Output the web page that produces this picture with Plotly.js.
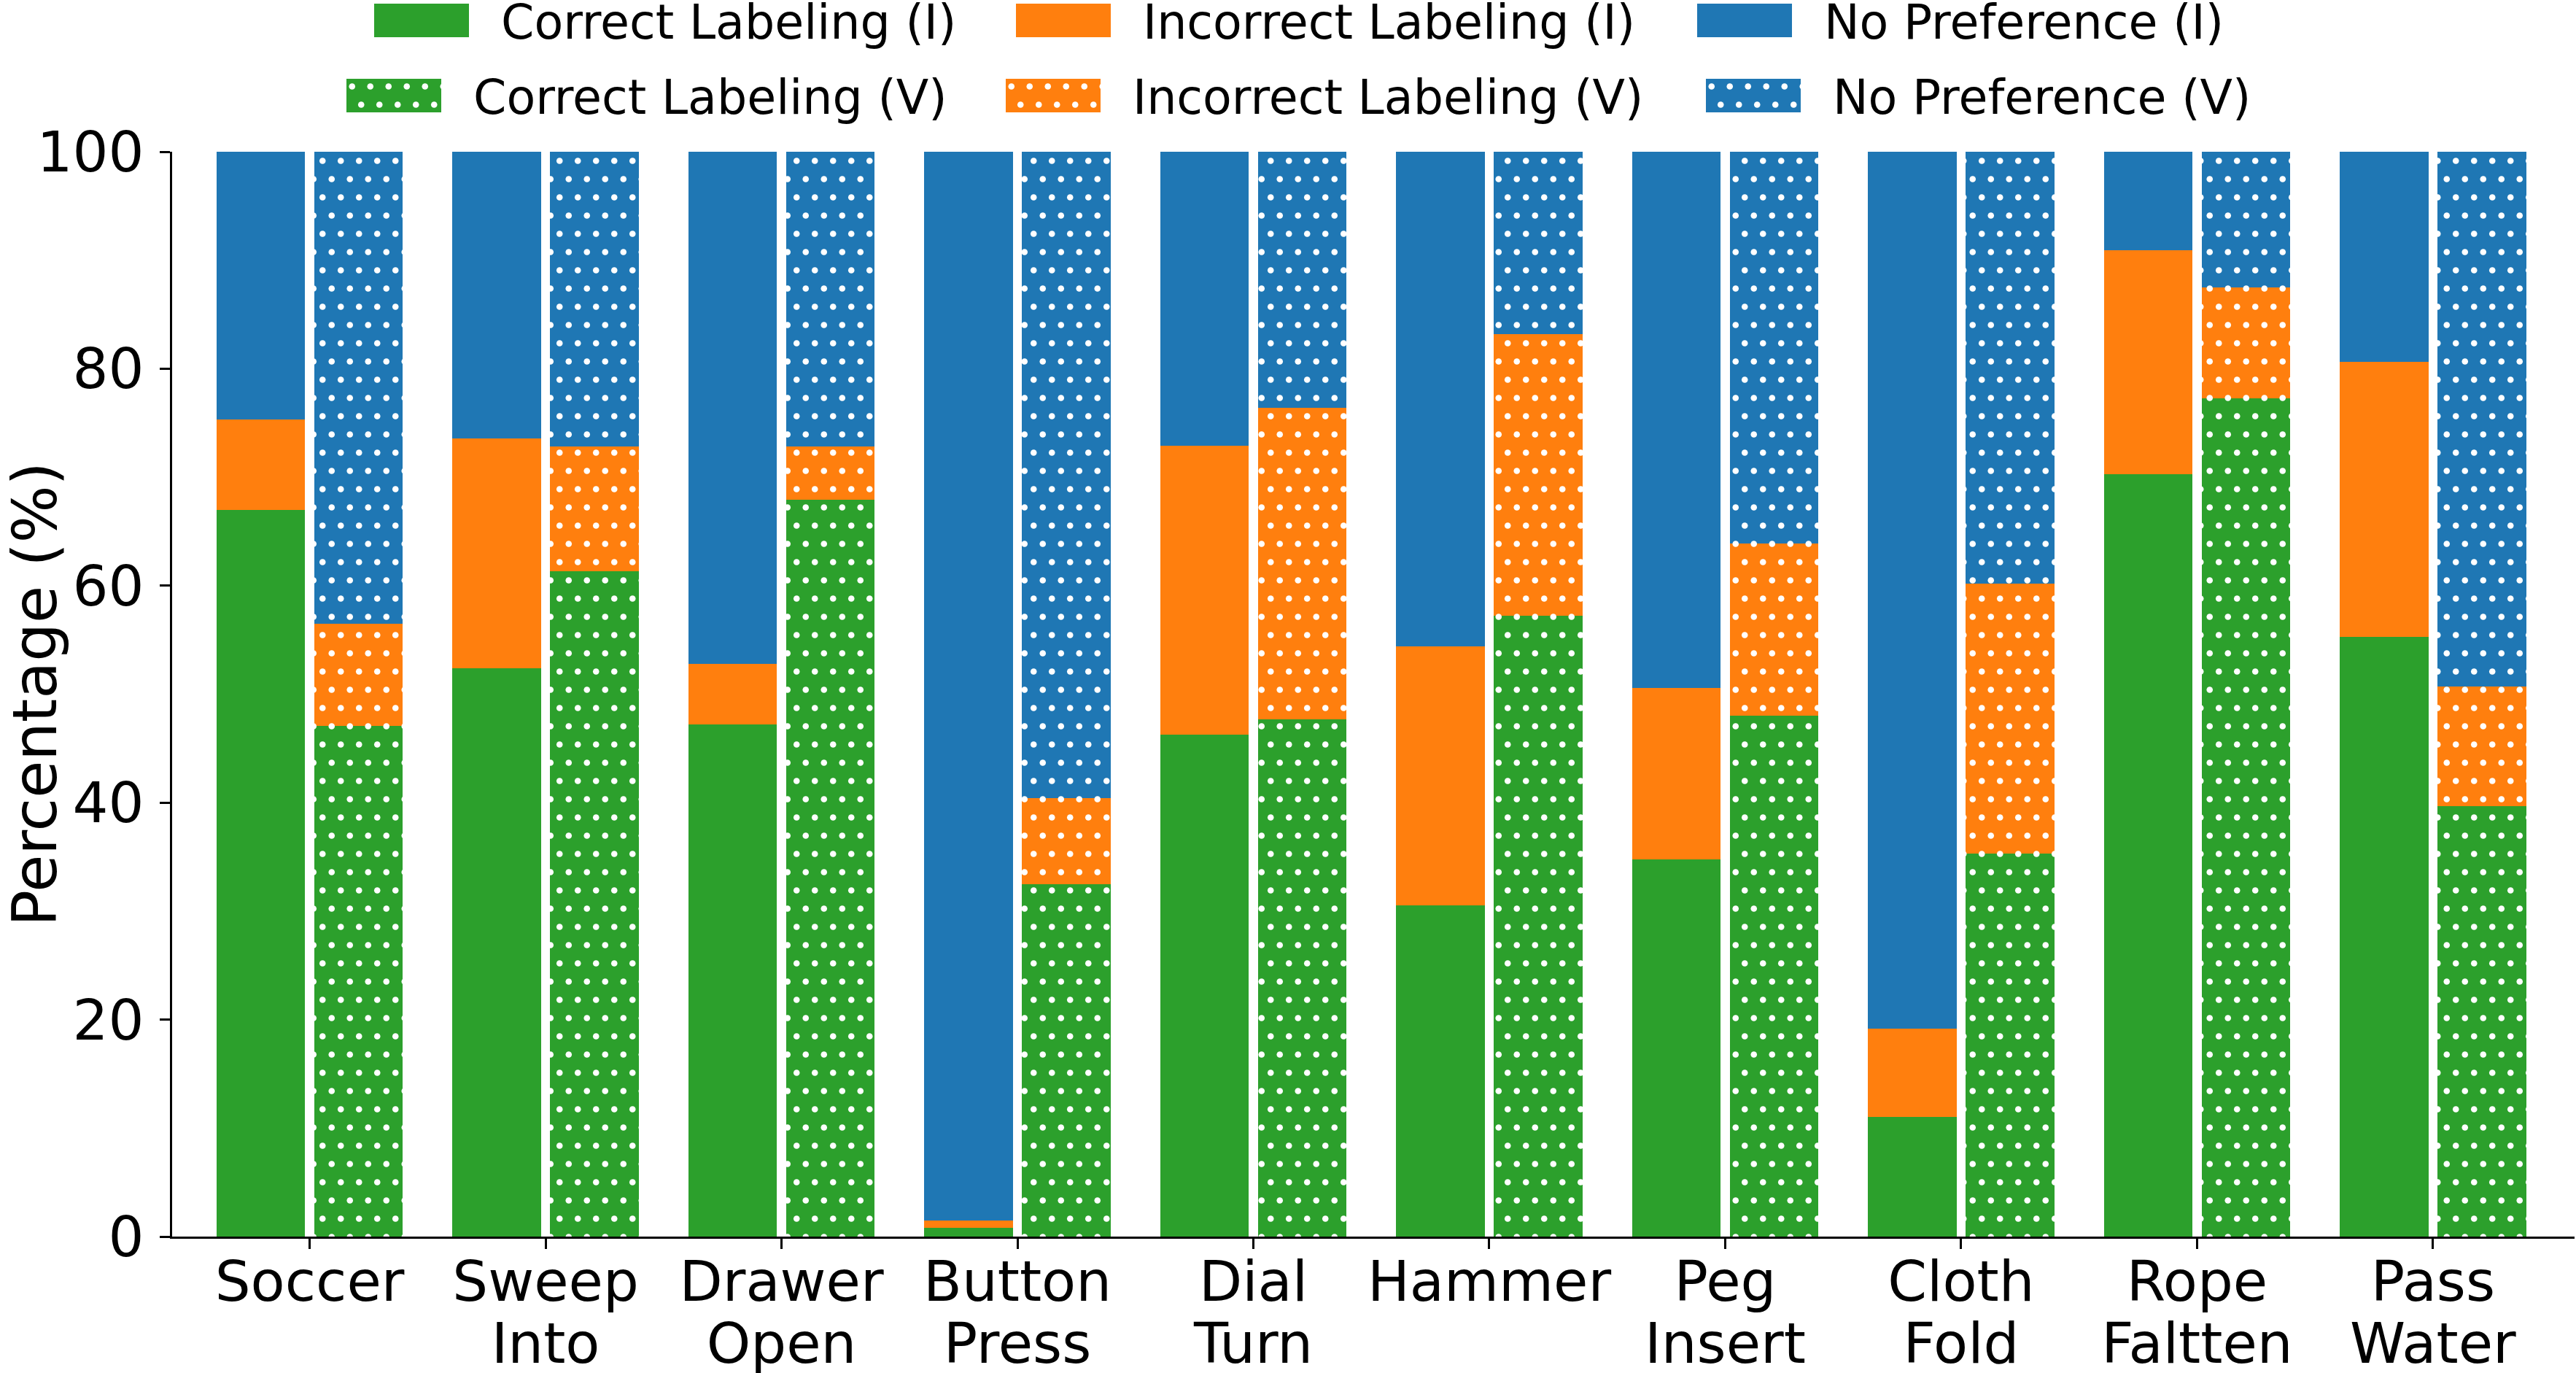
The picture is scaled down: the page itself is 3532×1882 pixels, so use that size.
<!DOCTYPE html>
<html><head><meta charset="utf-8">
<script src="https://cdn.plot.ly/plotly-3.0.1.min.js"></script>
<style>html,body{margin:0;padding:0;background:#fff}#chart{width:3532px;height:1882px}</style>
</head><body><div id="chart"></div>
<script>
const categories = ['Soccer', 'Sweep<br>Into', 'Drawer<br>Open', 'Button<br>Press', 'Dial<br>Turn', 'Hammer', 'Peg<br>Insert', 'Cloth<br>Fold', 'Rope<br>Faltten', 'Pass<br>Water'];
const correctI   = [67.0, 52.4, 47.2, 0.8, 46.3, 30.5, 34.8, 11.0, 70.3, 55.3];
const incorrectI = [8.3, 21.2, 5.6, 0.7, 26.6, 23.9, 15.8, 8.2, 20.6, 25.3];
const noPrefI    = [24.7, 26.4, 47.2, 98.5, 27.1, 45.6, 49.4, 80.8, 9.1, 19.4];
const correctV   = [47.1, 61.3, 67.9, 32.5, 47.7, 57.2, 48.0, 35.3, 77.3, 39.7];
const incorrectV = [9.4, 11.5, 4.9, 7.9, 28.7, 26.0, 15.9, 24.9, 10.2, 11.0];
const noPrefV    = [43.5, 27.2, 27.2, 59.6, 23.6, 16.8, 36.1, 39.8, 12.5, 49.3];
const yTicks = [0, 20, 40, 60, 80, 100];

const GREEN = '#2ca02c', ORANGE = '#ff7f0e', BLUE = '#1f77b4';
const FONT = 'DejaVu Sans, sans-serif';
const idx = categories.map((c, i) => i);
const OFF = 0.207, BW = 0.375;

// legend layout (px): text left edge and swatch centre line, like the matplotlib legend
const LEGEND_PLACE = {
  'Correct Labeling (I)': [687, 28], 'Incorrect Labeling (I)': [1567, 28], 'No Preference (I)': [2501, 28],
  'Correct Labeling (V)': [649, 131], 'Incorrect Labeling (V)': [1553, 131], 'No Preference (V)': [2513, 131]
};
const SWATCH_W = 130, SWATCH_H = 46, SWATCH_GAP = 44;

function mk(name, vals, color, dotted, legend) {
  const t = {
    type: 'bar', name: name, legend: legend,
    x: idx.map(i => dotted ? i + OFF : i - OFF),
    y: vals, width: BW,
    marker: {color: color, line: {width: 0}},
    hoverinfo: 'name+y'
  };
  if (dotted) {
    t.marker.pattern = {shape: '.', bgcolor: color, fgcolor: '#ffffff', fgopacity: 1, size: 35, solidity: 0.1, fillmode: 'replace'};
  }
  return t;
}

const data = [
  mk('Correct Labeling (I)', correctI, GREEN, false, 'legend'),
  mk('Incorrect Labeling (I)', incorrectI, ORANGE, false, 'legend'),
  mk('No Preference (I)', noPrefI, BLUE, false, 'legend'),
  mk('Correct Labeling (V)', correctV, GREEN, true, 'legend2'),
  mk('Incorrect Labeling (V)', incorrectV, ORANGE, true, 'legend2'),
  mk('No Preference (V)', noPrefV, BLUE, true, 'legend2')
];

const legBase = {orientation: 'h', traceorder: 'normal', xref: 'container', yref: 'container', x: 0.504, xanchor: 'center', yanchor: 'top',
  font: {family: FONT, size: 65, color: '#000'}, itemwidth: 150, bgcolor: 'rgba(0,0,0,0)', itemclick: false, itemdoubleclick: false};

const layout = {
  width: 3532, height: 1882,
  paper_bgcolor: '#ffffff', plot_bgcolor: '#ffffff',
  margin: {l: 236, r: 2, t: 208, b: 187, pad: 0, autoexpand: false},
  barmode: 'stack', bargap: 0,
  font: {family: FONT, color: '#000'},
  showlegend: true,
  legend: Object.assign({}, legBase, {y: 1.0}),
  legend2: Object.assign({}, legBase, {y: 1 - 102 / 1882}),
  xaxis: {
    range: [-0.583, 9.6], tickmode: 'array', tickvals: idx, ticktext: categories,
    showgrid: false, zeroline: false, showline: true, linecolor: '#000', linewidth: 3,
    ticks: 'outside', ticklen: 14, tickwidth: 3, tickcolor: '#000',
    tickfont: {family: FONT, size: 77, color: '#000'}, fixedrange: true
  },
  yaxis: {
    range: [0, 100], tickmode: 'array', tickvals: yTicks, ticktext: yTicks.map(String),
    showgrid: false, zeroline: false, showline: true, linecolor: '#000', linewidth: 3,
    ticks: 'outside', ticklen: 14, tickwidth: 3, tickcolor: '#000', ticklabelstandoff: 6,
    tickfont: {family: FONT, size: 77, color: '#000'},
    title: {text: 'Percentage (%)', font: {family: FONT, size: 83, color: '#000'}, standoff: 38},
    fixedrange: true
  }
};

// matplotlib-like '.' hatch: staggered white dots
const svgNS = 'http://www.w3.org/2000/svg';
(function makeDots() {
  const s = document.createElementNS(svgNS, 'svg');
  s.setAttribute('width', '0'); s.setAttribute('height', '0');
  s.style.position = 'absolute';
  const defs = document.createElementNS(svgNS, 'defs');
  [GREEN, ORANGE, BLUE].forEach(function (c) {
    const p = document.createElementNS(svgNS, 'pattern');
    p.setAttribute('id', 'dots-' + c.slice(1));
    p.setAttribute('patternUnits', 'userSpaceOnUse');
    p.setAttribute('width', '25'); p.setAttribute('height', '50');
    const r = document.createElementNS(svgNS, 'rect');
    r.setAttribute('width', '25'); r.setAttribute('height', '50'); r.setAttribute('fill', c);
    p.appendChild(r);
    [[6.25, 12.5], [18.75, 37.5]].forEach(function (xy) {
      const ci = document.createElementNS(svgNS, 'circle');
      ci.setAttribute('cx', xy[0]); ci.setAttribute('cy', xy[1]); ci.setAttribute('r', '4.3');
      ci.setAttribute('fill', '#ffffff');
      p.appendChild(ci);
    });
    defs.appendChild(p);
  });
  s.appendChild(defs);
  document.body.appendChild(s);
})();

function srcTrace(name) {
  return data.find(function (d) { return d.name === name; }) || null;
}

const debugMsgs = [];
function restyleDom(gd) {
  // dotted hatch on the V bars
  gd.querySelectorAll('.barlayer .trace').forEach(function (tr, k) {
    const d = tr.__data__;
    const t = d && d[0] && d[0].trace;
    const src = t ? data[t.index] : data[k];
    if (src && src.marker.pattern) {
      tr.querySelectorAll('path').forEach(function (p) { p.style.fill = 'url(#dots-' + src.marker.color.slice(1) + ')'; });
    }
  });
  // x tick labels: tighter line spacing, closer to the axis
  gd.querySelectorAll('.xtick text').forEach(function (tx) {
    if (tx.getAttribute('data-adj')) return;
    tx.setAttribute('data-adj', '1');
    tx.querySelectorAll('tspan.line').forEach(function (ts, i) {
      if (i > 0) ts.setAttribute('dy', '1.1em');
    });
    tx.setAttribute('transform', (tx.getAttribute('transform') || '') + ' translate(0,-21)');
  });
  // legends: large matplotlib-like swatches
  gd.querySelectorAll('[clip-path]').forEach(function (e) {
    if (e.getAttribute('clip-path').indexOf('legend') >= 0) e.removeAttribute('clip-path');
  });
  let found = 0, done = 0;
  gd.querySelectorAll('text').forEach(function (txt) {
    const name = txt.textContent.trim();
    const place = LEGEND_PLACE[name];
    if (!place) return;
    found++;
    try {
      const tr = txt.parentNode;
      const all = Array.prototype.slice.call(tr.querySelectorAll('path'));
      let p = all.find(function (q) { return /bar/.test(q.getAttribute('class') || ''); });
      if (!p) p = all.find(function (q) { const b = q.getBBox(); return b.width > 0 && b.height > 0; });
      if (!p) { debugMsgs.push('nopath:' + name + ':' + all.length); return; }
      all.forEach(function (q) { if (q !== p) q.style.display = 'none'; });
      const pr = p.getBoundingClientRect();
      const tr0 = txt.getBoundingClientRect();
      const dx = place[0] - tr0.left, dy = place[1] - (pr.top + pr.height / 2);
      const m0 = /translate\(\s*([-\d.e]+)[ ,]+([-\d.e]+)\s*\)/.exec(tr.getAttribute('transform') || '');
      const ax = m0 ? parseFloat(m0[1]) : 0, ay = m0 ? parseFloat(m0[2]) : 0;
      tr.setAttribute('transform', 'translate(' + (ax + dx) + ',' + (ay + dy) + ')');
      const tr1 = txt.getBoundingClientRect();
      const cy = place[1];
      const x1 = tr1.left - SWATCH_GAP, x0 = x1 - SWATCH_W, y0 = cy - SWATCH_H / 2, y1 = cy + SWATCH_H / 2;
      p.removeAttribute('transform');
      const m = p.getScreenCTM();
      const lx0 = (x0 - m.e) / m.a, lx1 = (x1 - m.e) / m.a;
      const ly0 = (y0 - m.f) / m.d, ly1 = (y1 - m.f) / m.d;
      p.setAttribute('d', 'M' + lx0 + ',' + ly0 + 'H' + lx1 + 'V' + ly1 + 'H' + lx0 + 'Z');
      const src = srcTrace(name);
      p.style.fill = src.marker.pattern ? 'url(#dots-' + src.marker.color.slice(1) + ')' : src.marker.color;
      p.style.stroke = 'none';
      p.style.opacity = 1;
      p.style.fillOpacity = 1;
      done++;
    } catch (e) { debugMsgs.push('err:' + name + ':' + e.message); }
  });
  debugMsgs.push('found=' + found + ' done=' + done);
}

Plotly.newPlot('chart', data, layout, {displayModeBar: false, staticPlot: true}).then(function (gd) {
  restyleDom(gd);
  gd.on('plotly_afterplot', function () { restyleDom(gd); });
  setTimeout(function () {
    restyleDom(gd);
    const ok = debugMsgs.length && /found=6 done=6$/.test(debugMsgs[debugMsgs.length - 1]);
    if (!ok) {
      const dbg = document.createElement('div');
      dbg.style.cssText = 'position:absolute;left:1500px;top:900px;font:30px monospace;color:red;background:#fff;width:1500px';
      dbg.textContent = debugMsgs.join(' | ');
      document.body.appendChild(dbg);
    }
  }, 400);
});
</script>
</body></html>
